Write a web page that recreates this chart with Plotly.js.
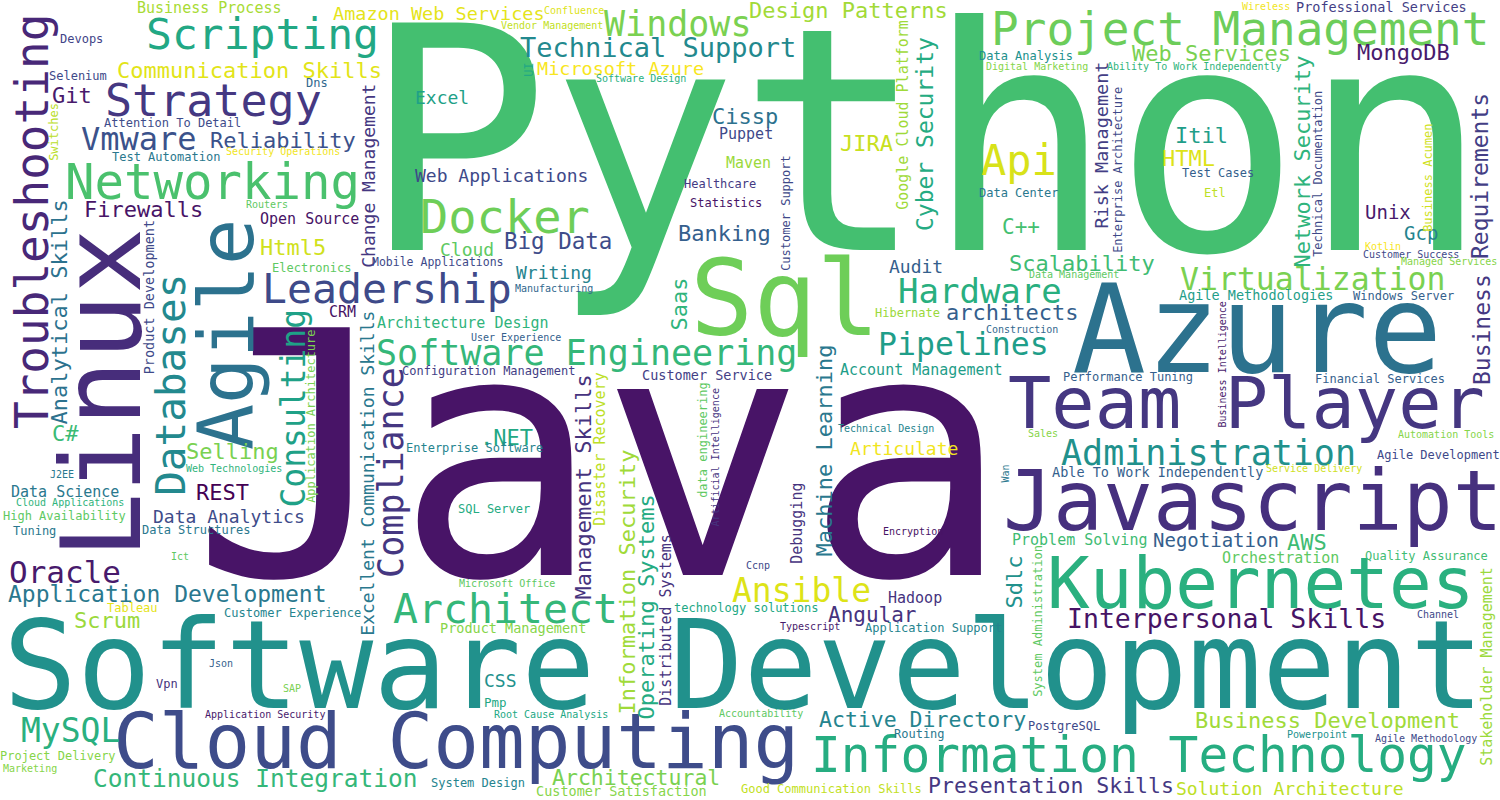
<!DOCTYPE html>
<html><head><meta charset="utf-8">
<script src="https://cdn.plot.ly/plotly-3.0.1.min.js"></script>
<style>html,body{margin:0;padding:0;background:#fff}#chart{width:1500px;height:800px}</style>
</head><body><div id="chart"></div>
<script>
// Word cloud data: skills and their relative weights
const words = [
"Python","Java","Software Development","Linux","Azure","Team Player","Javascript","Kubernetes","Cloud Computing","Information Technology",
"Agile","Sql","Project Management","Troubleshooting","Networking","Scripting","Strategy","Docker","Leadership","Databases",
"Architect","Api","Windows","Hardware","Administration","Software Engineering","Compliance","Consulting","Ansible","MySQL",
"Vmware","Pipelines","Virtualization","Oracle","Technical Support","Interpersonal Skills","Continuous Integration","Application Development","Cyber Security","Business",
"Requirements","Network Security","Machine Learning","Management Skills","Information Security","Operating Systems","Active Directory","Presentation Skills","Business Development","Architectural",
"Saas","Communication Skills","Design Patterns","Web Services","MongoDB","Reliability","Firewalls","Html5","Git","Cissp",
"JIRA","Itil","HTML","Banking","Big Data","Scalability","architects","Selling","REST",".NET",
"C#","Analytical Skills","Scrum","Sdlc","AWS","Angular","C++","Unix","Gcp","Negotiation",
"Amazon Web Services","Microsoft Azure","Excel","Web Applications","Cloud","Writing","Audit","Change Management","Risk Management","Excellent Communication Skills",
"Data Analytics","Articulate","Solution Architecture","CSS","Google Cloud Platform","Business Process","Open Source","CRM","Architecture Design","Maven",
"Puppet","Data Science","Disaster Recovery","Distributed Systems","Debugging","Account Management","Hadoop","Problem Solving","Orchestration","Stakeholder Management",
"Product Development","Professional Services","Agile Methodologies","Customer Service","Able To Work Independently","Product Management","Customer Satisfaction","Devops","Selenium","Switches",
"Dns","Attention To Detail","Test Automation","Electronics","Mobile Applications","UI","Healthcare","Statistics","Customer Support","Data Analysis",
"Enterprise Architecture","Test Cases","Etl","Data Center","Technical Documentation","Business Acumen","Application Architecture","Configuration Management","Enterprise Software","SQL Server",
"High Availability","Tuning","Data Structures","data engineering","Hibernate","Windows Server","Performance Tuning","Financial Services","Agile Development","System Administration",
"Quality Assurance","PostgreSQL","Routing","technology solutions","Application Support","Good Communication Skills","System Design","Tableau","Customer Experience","Vpn",
"Project Delivery","Pmp","Confluence","Vendor Management","Security Operations","Routers","Software Design","Wireless","Digital Marketing","Ability To Work Independently",
"Kotlin","Customer Success","Managed Services","Data Management","Construction","Business Intelligence","Sales","Automation Tools","Service Delivery","Wan",
"Channel","Powerpoint","Agile Methodology","Technical Design","Artificial Intelligence","Encryption","Manufacturing","User Experience","Web Technologies","J2EE",
"Cloud Applications","Ict","Json","SAP","Application Security","Marketing","Microsoft Office","Ccnp","Typescript","Accountability",
"Root Cause Analysis"
];
const weights = [
312,340,123,110,123,72,83,71,76,49.5,
77,105,46,46,49,43,45,47,41.5,41,
41.5,42,35,34,35,35,35,33,33,33,
32,31.5,31.5,31,27,26.5,24.5,23,23,23,
23,22,22,22,22,22,21.5,21.5,22,21.5,
22,22,22,22,22,22,22,22,22,22,
22,22,22,22,22.5,22,22,22,22,22,
22,22,22,22,22,21,21,19,19,19,
18.5,18.5,18,18,18,18,18,18,18.5,18,
18,18,18,18,15,15,15,15,15,15,
15,15,15,15,15,15,15,15,15,15,
13.5,13.5,13.5,13.5,13.5,13.5,13.5,12,12,12,
12,12,12,12,11.5,12,12,12,12,12,
12,12,12,12,12,12,12,12,12,12,
12,12,12,12,12,12,12,12,12,12,
12,12,12,12,12,12,12,12,12,12,
12,12.5,10,10,10,10,10,10,10,10,
10,10,10,10,10,10,10,10,10,10,
10,10,10,10,10,10,10,10,10,10,
10,10,10,10,10,10,10,10,10,10,
10
];

// Layout of each word in the cloud: [x, baseline, vertical(1)/horizontal(0), colour]
// horizontal words: x = centre, y = baseline; vertical words: x = baseline, y = centre
const placement = {
"Python":[925,250,0,"#44bf70"],"Java":[600,575,0,"#481467"],"Software Development":[743,708,0,"#21918c"],
"Linux":[140,393,1,"#472d7b"],"Azure":[1257,372,0,"#2c728e"],"Team Player":[1246,428,0,"#453781"],
"Javascript":[1253,530,0,"#46307e"],"Kubernetes":[1260,608,0,"#2ab07f"],"Cloud Computing":[456,768,0,"#3e4c8a"],
"Information Technology":[1139,772,0,"#26ad81"],"Agile":[253,334,1,"#2c728e"],"Sql":[785,335,0,"#6ece58"],
"Project Management":[1240,45,0,"#6ccd5a"],"Troubleshooting":[48,222,1,"#482878"],"Networking":[212,199,0,"#4ac16d"],
"Scripting":[262,49,0,"#22a884"],"Strategy":[213,116,0,"#453882"],"Docker":[505,233,0,"#6ece58"],
"Leadership":[387,303,0,"#3e4a89"],"Databases":[185,385,1,"#23898e"],"Architect":[505,623,0,"#35b779"],
"Api":[1019,175,0,"#d8e219"],"Windows":[678,36,0,"#7ad151"],"Hardware":[980,303,0,"#29af7f"],
"Administration":[1208,465,0,"#21918c"],"Software Engineering":[586,365,0,"#35b779"],"Compliance":[403,472,1,"#453781"],
"Consulting":[304,408,1,"#1fa187"],"Ansible":[801,602,0,"#dde318"],"MySQL":[70,742,0,"#2ab07f"],
"Vmware":[139,150,0,"#3b528b"],"Pipelines":[963,355,0,"#1f9e89"],"Virtualization":[1313,290,0,"#7ad151"],
"Oracle":[65,583,0,"#481a6c"],"Technical Support":[658,57,0,"#23898e"],"Interpersonal Skills":[1226,628,0,"#471365"],
"Continuous Integration":[255,787,0,"#35b779"],"Application Development":[167,602,0,"#2a788e"],"Cyber Security":[933,134,1,"#25ab82"],
"Business":[1490,330,1,"#453882"],"Requirements":[1488,176,1,"#433e85"],"Network Security":[1310,161,1,"#2fb47c"],
"Machine Learning":[832,450,1,"#2a788e"],"Management Skills":[591,487,1,"#46337e"],"Information Security":[635,582,1,"#a0da39"],
"Operating Systems":[654,607,1,"#25ab82"],"Active Directory":[922,727,0,"#25848e"],"Presentation Skills":[1051,793,0,"#453882"],
"Business Development":[1327,728,0,"#a0da39"],"Architectural":[636,785,0,"#7ad151"],"Saas":[687,304,1,"#2fb47c"],
"Communication Skills":[249,78,0,"#e2e418"],"Design Patterns":[848,18,0,"#a2da37"],"Web Services":[1211,61,0,"#7ad151"],
"MongoDB":[1403,60,0,"#481a6c"],"Reliability":[283,148,0,"#3b528b"],"Firewalls":[143,217,0,"#481467"],
"Html5":[293,255,0,"#d0e11c"],"Git":[72,103,0,"#481a6c"],"Cissp":[745,124,0,"#2c728e"],
"JIRA":[866,151,0,"#c8e020"],"Itil":[1201,143,0,"#1f9e89"],"HTML":[1188,166,0,"#dde318"],
"Banking":[724,241,0,"#355f8d"],"Big Data":[558,249,0,"#3e4c8a"],"Scalability":[1082,271,0,"#3fbc73"],
"architects":[1012,320,0,"#355f8d"],"Selling":[232,459,0,"#7ad151"],"REST":[222,500,0,"#440154"],
".NET":[506,445,0,"#22a884"],"C#":[65,441,0,"#3bbb75"],"Analytical Skills":[67,312,1,"#2c728e"],
"Scrum":[107,628,0,"#9bd93c"],"Sdlc":[1022,582,1,"#21918c"],"AWS":[1307,550,0,"#3fbc73"],
"Angular":[872,622,0,"#46337e"],"C++":[1021,234,0,"#44bf70"],"Unix":[1388,219,0,"#481a6c"],
"Gcp":[1421,240,0,"#25848e"],"Negotiation":[1216,547,0,"#355f8d"],"Amazon Web Services":[439,20,0,"#e5e419"],
"Microsoft Azure":[620,75,0,"#f8e621"],"Excel":[442,104,0,"#1fa187"],"Web Applications":[501,182,0,"#3e4989"],
"Cloud":[467,256,0,"#5ec962"],"Writing":[554,279,0,"#25848e"],"Audit":[916,273,0,"#355f8d"],
"Change Management":[374,176,1,"#453781"],"Risk Management":[1107,145,1,"#433e85"],"Excellent Communication Skills":[373,473,1,"#2a788e"],
"Data Analytics":[229,523,0,"#3e4c8a"],"Articulate":[904,455,0,"#f1e51d"],"Solution Architecture":[1290,795,0,"#bddf26"],
"CSS":[500,687,0,"#21918c"],"Google Cloud Platform":[908,115,1,"#a0da39"],"Business Process":[209,13,0,"#a8db34"],
"Open Source":[309,224,0,"#471365"],"CRM":[342,317,0,"#471365"],"Architecture Design":[463,328,0,"#2fb47c"],
"Maven":[748,168,0,"#9bd93c"],"Puppet":[746,139,0,"#3e4989"],"Data Science":[65,497,0,"#2a788e"],
"Disaster Recovery":[605,449,1,"#bddf26"],"Distributed Systems":[671,620,1,"#46337e"],"Debugging":[802,523,1,"#46337e"],
"Account Management":[921,375,0,"#1f9e89"],"Hadoop":[915,603,0,"#46337e"],"Problem Solving":[1079,545,0,"#3fbc73"],
"Orchestration":[1280,563,0,"#5ec962"],"Stakeholder Management":[1492,666,1,"#9bd93c"],"Product Development":[154,297,1,"#3e4989"],
"Professional Services":[1381,12,0,"#433e85"],"Agile Methodologies":[1256,300,0,"#1f9e89"],"Customer Service":[707,380,0,"#433e85"],
"Able To Work Independently":[1157,477,0,"#355f8d"],"Product Management":[513,633,0,"#86d549"],"Customer Satisfaction":[621,796,0,"#86d549"],
"Devops":[81,43,0,"#414487"],"Selenium":[78,80,0,"#3e4989"],"Switches":[58,132,1,"#bade28"],
"Dns":[317,87,0,"#31688e"],"Attention To Detail":[172,127,0,"#3e4c8a"],"Test Automation":[166,161,0,"#2a788e"],
"Electronics":[311,272,0,"#5ec962"],"Mobile Applications":[438,266,0,"#3e4989"],"UI":[533,70,1,"#22a884"],
"Healthcare":[720,188,0,"#443a83"],"Statistics":[726,207,0,"#481467"],"Customer Support":[790,213,1,"#3e4989"],
"Data Analysis":[1026,60,0,"#21918c"],"Enterprise Architecture":[1122,170,1,"#3e4989"],"Test Cases":[1218,177,0,"#355f8d"],
"Etl":[1215,197,0,"#bddf26"],"Data Center":[1018,197,0,"#2a788e"],"Technical Documentation":[1322,174,1,"#3e4989"],
"Business Acumen":[1432,178,1,"#d0e11c"],"Application Architecture":[315,416,1,"#7ad151"],"Configuration Management":[488,375,0,"#433e85"],
"Enterprise Software":[474,452,0,"#25848e"],"SQL Server":[494,513,0,"#25ab82"],"High Availability":[64,520,0,"#5ec962"],
"Tuning":[34,535,0,"#2a788e"],"Data Structures":[196,534,0,"#2a788e"],"data engineering":[707,440,1,"#5ec962"],
"Hibernate":[907,317,0,"#9bd93c"],"Windows Server":[1403,300,0,"#355f8d"],"Performance Tuning":[1128,381,0,"#355f8d"],
"Financial Services":[1380,383,0,"#355f8d"],"Agile Development":[1438,459,0,"#3e4989"],"System Administration":[1042,621,1,"#5ec962"],
"Quality Assurance":[1426,560,0,"#3fbc73"],"PostgreSQL":[1064,730,0,"#3e4989"],"Routing":[919,738,0,"#2a788e"],
"technology solutions":[746,612,0,"#22a884"],"Application Support":[933,632,0,"#25848e"],"Good Communication Skills":[831,793,0,"#c2df23"],
"System Design":[478,787,0,"#25848e"],"Tableau":[132,612,0,"#e5e419"],"Customer Experience":[292,617,0,"#25848e"],
"Vpn":[167,688,0,"#46337e"],"Project Delivery":[58,760,0,"#86d549"],"Pmp":[495,707,0,"#22a884"],
"Confluence":[574,14,0,"#dde318"],"Vendor Management":[552,29,0,"#c2df23"],"Security Operations":[283,155,0,"#f1e51d"],
"Routers":[267,208,0,"#5ec962"],"Software Design":[641,82,0,"#2ab07f"],"Wireless":[1266,10,0,"#f1e51d"],
"Digital Marketing":[1037,70,0,"#86d549"],"Ability To Work Independently":[1194,70,0,"#2fb47c"],"Kotlin":[1383,250,0,"#f8e621"],
"Customer Success":[1411,258,0,"#3e4989"],"Managed Services":[1449,265,0,"#86d549"],"Data Management":[1074,278,0,"#5ec962"],
"Construction":[1022,333,0,"#31688e"],"Business Intelligence":[1225,365,1,"#481a6c"],"Sales":[1043,437,0,"#86d549"],
"Automation Tools":[1446,438,0,"#86d549"],"Service Delivery":[1314,472,0,"#d0e11c"],"Wan":[1008,474,1,"#2a788e"],
"Channel":[1438,618,0,"#3e4989"],"Powerpoint":[1317,738,0,"#21918c"],"Agile Methodology":[1426,742,0,"#3e4989"],
"Technical Design":[886,432,0,"#25848e"],"Artificial Intelligence":[718,458,1,"#46337e"],"Encryption":[913,535,0,"#471365"],
"Manufacturing":[554,292,0,"#31688e"],"User Experience":[516,341,0,"#355f8d"],"Web Technologies":[234,472,0,"#2fb47c"],
"J2EE":[62,478,0,"#2a788e"],"Cloud Applications":[70,506,0,"#2fb47c"],"Ict":[180,560,0,"#5ec962"],
"Json":[221,667,0,"#355f8d"],"SAP":[292,692,0,"#7ad151"],"Application Security":[265,718,0,"#481a6c"],
"Marketing":[30,772,0,"#86d549"],"Microsoft Office":[507,587,0,"#5ec962"],"Ccnp":[758,569,0,"#3e4989"],
"Typescript":[810,630,0,"#481a6c"],"Accountability":[761,717,0,"#5ec962"],"Root Cause Analysis":[551,718,0,"#22a884"]
};

const FONT = "'DejaVu Sans Mono', 'Liberation Mono', monospace";
const BASE_OFFSET = 0.346; // distance from font box centre to baseline, in em

const annotations = words.map((w, i) => {
  const p = placement[w];
  const s = weights[i];
  const vertical = p[2] === 1;
  return {
    x: vertical ? p[0] - BASE_OFFSET * s : p[0],
    y: vertical ? p[1] : p[1] - BASE_OFFSET * s,
    xref: 'x', yref: 'y',
    text: w,
    showarrow: false,
    textangle: vertical ? -90 : 0,
    xanchor: 'center', yanchor: 'middle',
    borderpad: 0,
    font: {family: FONT, size: s, color: p[3]}
  };
});

const layout = {
  width: 1500, height: 800,
  margin: {l: 0, r: 0, t: 0, b: 0, pad: 0},
  paper_bgcolor: '#ffffff', plot_bgcolor: '#ffffff',
  showlegend: false,
  xaxis: {range: [0, 1500], visible: false, fixedrange: true},
  yaxis: {range: [800, 0], visible: false, fixedrange: true},
  annotations: annotations
};

Plotly.newPlot('chart', [{x: [], y: [], type: 'scatter', mode: 'markers', hoverinfo: 'skip'}], layout, {staticPlot: true, displayModeBar: false});
</script>
</body></html>
